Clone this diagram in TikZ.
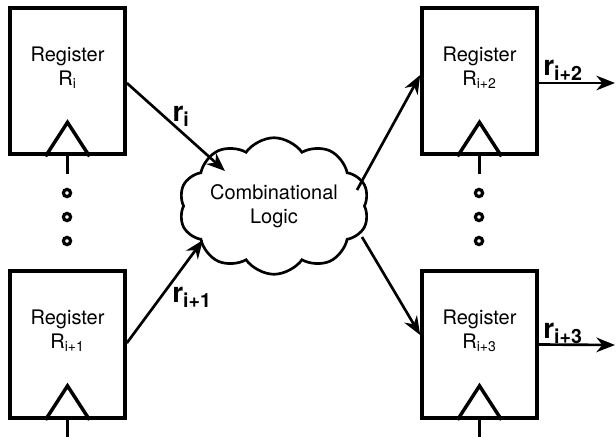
\documentclass[tikz,border=0pt]{standalone}
\usepackage{fontspec}
\setmainfont{TeX Gyre Heros}
\usetikzlibrary{shapes.symbols,arrows.meta}

\tikzset{every picture/.style={line width=2pt}}
\tikzset{
  regbox/.style={draw, line width=3pt, minimum width=86pt, minimum height=110pt, inner sep=0pt},
  regtext/.style={align=center, inner sep=0.75pt, font=\fontsize{15}{18}\selectfont},
  wirelabel/.style={inner sep=0.75pt, font=\fontsize{21}{24}\selectfont\bfseries},
  wire/.style={line width=2pt, -{Stealth[length=14pt,width=11pt]}},
}

\begin{document}
\begin{tikzpicture}[x=0.75pt,y=0.75pt,yscale=-1,xscale=1]
\useasboundingbox (0,0) rectangle (616,436);

% Registers
\node (regA) [regbox] at (67.5,81) {};
\node (regB) [regbox] at (67.5,344.5) {};
\node (regC) [regbox] at (479.5,81) {};
\node (regD) [regbox] at (479.5,344.5) {};

% Register texts
\node (regAtxt) [regtext] at (67.5,68) {Register\\R\textsubscript{i}};
\node (regBtxt) [regtext] at (67.5,331) {Register\\R\textsubscript{i+1}};
\node (regCtxt) [regtext] at (479.5,68) {Register\\R\textsubscript{i+2}};
\node (regDtxt) [regtext] at (479.5,331) {Register\\R\textsubscript{i+3}};

% Clock triangles and clock inputs
\foreach \r in {regA,regB,regC,regD} {
  \draw [line width=2.6pt] ([shift={(-22,0)}]\r.south) -- ++(22,-34) -- ++(22,34);
  \draw [line width=2.6pt] (\r.south) -- ++(0,18);
}

% Dots
\foreach \y in {193,217,241} {
  \draw [line width=2.4pt] (67,\y) circle (3.6);
  \draw [line width=2.4pt] (479,\y) circle (3.6);
}

% Cloud
\node (logic) [cloud, draw, line width=2pt, cloud puffs=10, cloud puff arc=110, aspect=1.6,
  minimum width=122pt, minimum height=80pt, inner sep=0pt,
  font=\fontsize{15}{18}\selectfont, align=center] at (274,206) {Combinational\\Logic};

% Cloud contact points
\coordinate (inA) at ([shift={(-49,-35)}]logic.center);
\coordinate (inB) at ([shift={(-71,34)}]logic.center);
\coordinate (outA) at ([shift={(83,-16)}]logic.center);
\coordinate (outB) at ([shift={(88,31)}]logic.center);

% Outputs
\coordinate (outC) at (615,83);
\coordinate (outD) at (615,345);

% Connectors
\draw [wire] ([shift={(0,2)}]regA.east) -- (inA);
\draw [wire] ([shift={(0,-1.5)}]regB.east) -- (inB);
\draw [wire] (outA) -- ([shift={(0,-6)}]regC.west);
\draw [wire] (outB) -- ([shift={(0,-9.5)}]regD.west);
\draw [wire] ([shift={(0,2)}]regC.east) -- (outC);
\draw [wire] (regD.east) -- (outD);

% Wire labels
\node (lblA) [wirelabel] at (181,116) {r\textsubscript{i}};
\node (lblB) [wirelabel] at (192,297) {r\textsubscript{i+1}};
\node (lblC) [wirelabel] at (563,70) {r\textsubscript{i+2}};
\node (lblD) [wirelabel] at (563,333) {r\textsubscript{i+3}};

\end{tikzpicture}
\end{document}
